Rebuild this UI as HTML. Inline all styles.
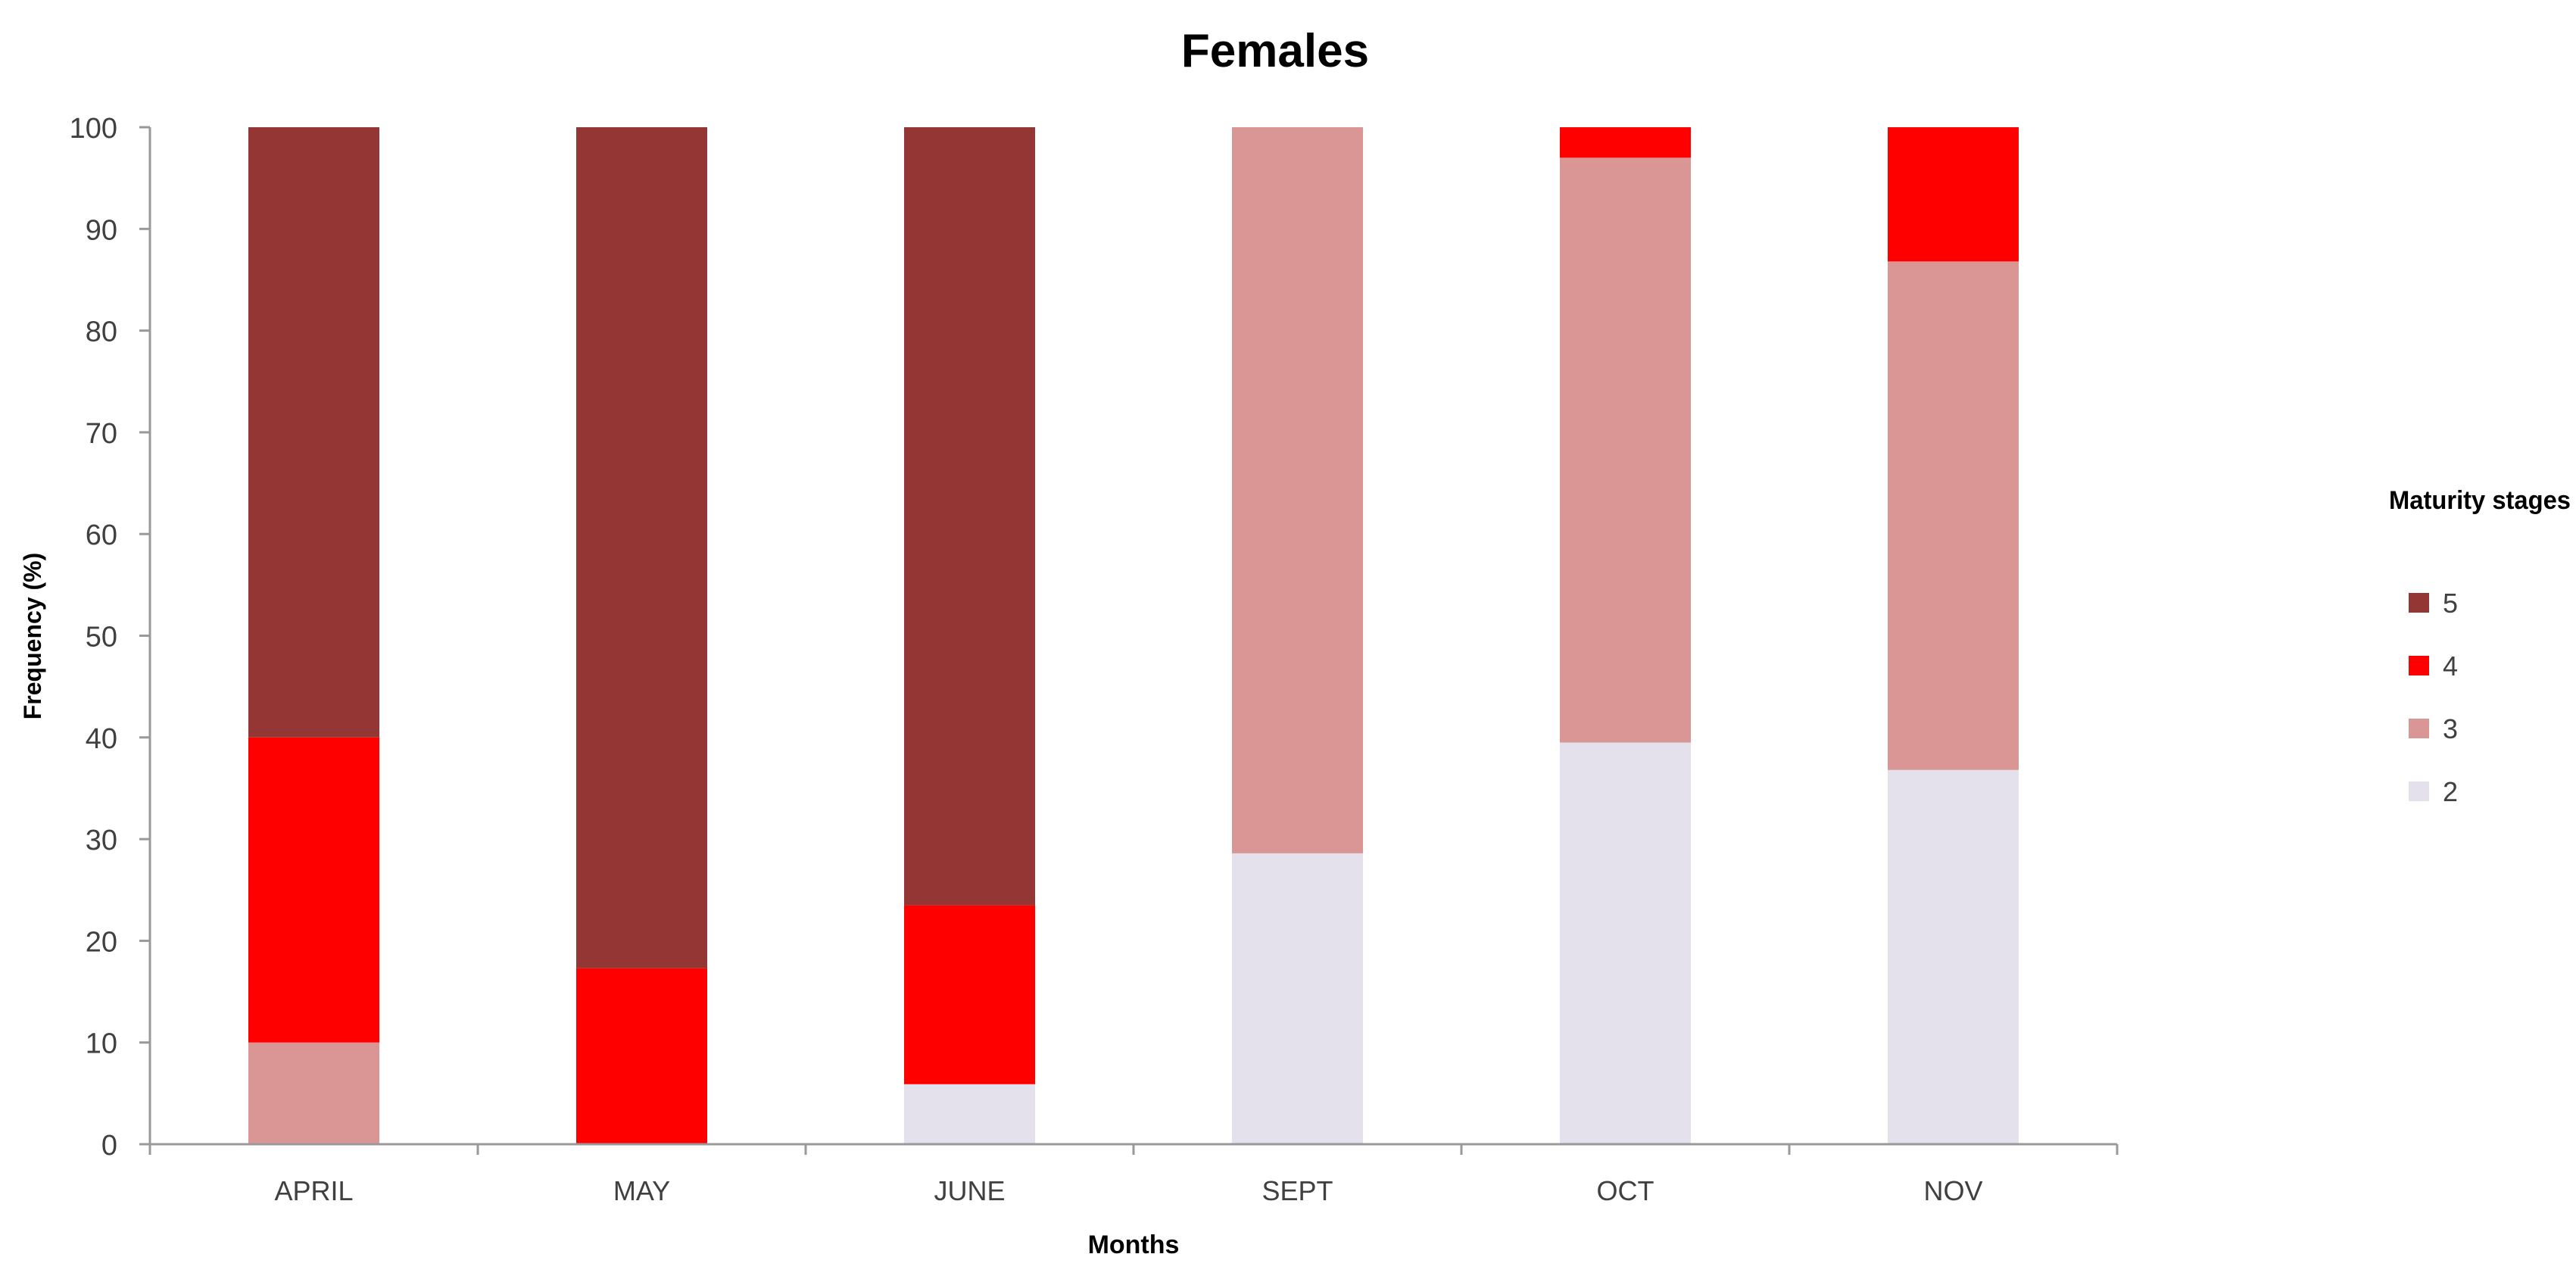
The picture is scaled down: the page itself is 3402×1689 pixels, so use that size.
<!DOCTYPE html>
<html><head><meta charset="utf-8"><style>
body{margin:0;background:#fff;width:3402px;height:1684px;overflow:hidden}
text{font-family:"Liberation Sans",sans-serif}
</style></head><body>
<svg id="chart" width="3402" height="1684" viewBox="0 0 3402 1684" xmlns="http://www.w3.org/2000/svg">
<text x="1684" y="88" text-anchor="middle" font-size="62" font-weight="bold" fill="#000">Females</text>
<text transform="translate(54,840) rotate(-90)" text-anchor="middle" font-size="32" font-weight="bold" fill="#000">Frequency (%)</text>
<text x="1497" y="1655" text-anchor="middle" font-size="34" font-weight="bold" fill="#000">Months</text>
<text x="3155" y="672" font-size="34" font-weight="bold" fill="#000" textLength="240" lengthAdjust="spacingAndGlyphs">Maturity stages</text>
<g id="plot"></g>
</svg>
<script>
const categories=["APRIL","MAY","JUNE","SEPT","OCT","NOV"];
const stage2=[0,0,5.9,28.6,39.5,36.8];
const stage3=[10,0,0,71.4,57.5,50];
const stage4=[30,17.3,17.6,0,3,13.2];
const stage5=[60,82.7,76.5,0,0,0];
const yTicks=[0,10,20,30,40,50,60,70,80,90,100];
const seriesNames=["2","3","4","5"];
const seriesColors=["#E4E0EC","#D99694","#FF0000","#943634"];
const series=[stage2,stage3,stage4,stage5];
const NS="http://www.w3.org/2000/svg";
const g=document.getElementById('plot');
const x0=198,x1=2796,yTop=168,yBot=1511,barW=173;
const step=(x1-x0)/categories.length;
const yS=v=>yBot-(v/100)*(yBot-yTop);
const xC=i=>x0+step*(i+0.5);
function mk(t,a){const e=document.createElementNS(NS,t);for(const k in a)e.setAttribute(k,a[k]);g.appendChild(e);return e;}
categories.forEach((c,i)=>{let acc=0;series.forEach((s,j)=>{const v=s[i];if(v>0){const r=mk('rect',{x:xC(i)-barW/2,y:yS(acc+v),width:barW,height:yS(acc)-yS(acc+v),fill:seriesColors[j]});

}acc+=v;});});
const ya=mk('line',{x1:x0,y1:yTop,x2:x0,y2:yBot+14,stroke:'#999','stroke-width':3});


const xa=mk('line',{x1:x0,y1:yBot,x2:x1,y2:yBot,stroke:'#999','stroke-width':3});


yTicks.forEach(t=>{const l=mk('line',{x1:x0-14,y1:yS(t),x2:x0,y2:yS(t),stroke:'#999','stroke-width':3});


const tx=mk('text',{x:155,y:yS(t)+14,'text-anchor':'end','font-size':38,fill:'#404040'});tx.textContent=t;

});
for(let i=0;i<=categories.length;i++){const l=mk('line',{x1:x0+step*i,y1:yBot,x2:x0+step*i,y2:yBot+14,stroke:'#999','stroke-width':3});

}
categories.forEach((c,i)=>{const tx=mk('text',{x:xC(i),y:1585,'text-anchor':'middle','font-size':36,fill:'#404040'});tx.textContent=c;

});
[3,2,1,0].forEach((j,k)=>{const y=796+k*83;const r=mk('rect',{x:3181,y:y-13,width:27,height:26,fill:seriesColors[j]});


const tx=mk('text',{x:3226,y:y+13,'font-size':36,fill:'#404040'});tx.textContent=seriesNames[j];

});
</script>
</body></html>
